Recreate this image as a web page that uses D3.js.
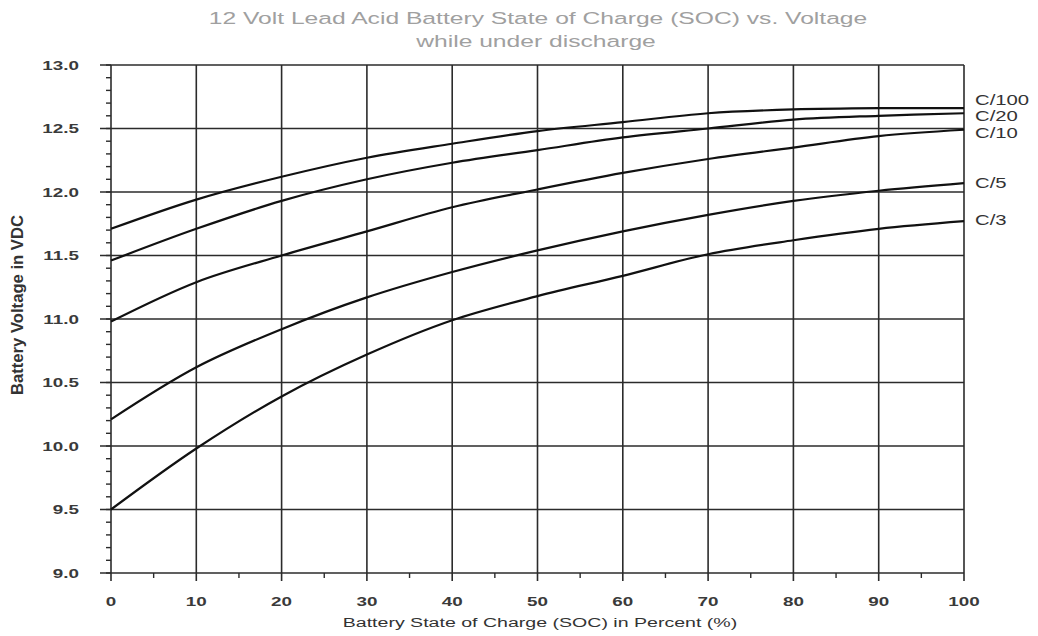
<!DOCTYPE html>
<meta charset="utf-8">
<style>
body { margin: 0; background: #fff; overflow: hidden; }
text { font-family: Arial, "Liberation Sans", sans-serif; }
.title { fill: #a0a0a0; font-size: 17px; }
.tick-label { fill: #3a3a3a; font-size: 13px; font-weight: bold; }
.axis-title { fill: #333; font-size: 13.5px; }
.y-title { fill: #333; font-size: 13px; font-weight: bold; }
.series-label { fill: #333; font-size: 14px; }
.grid { stroke: #2b2b2b; stroke-width: 1.6px; }
.minor { stroke: #2b2b2b; stroke-width: 1.4px; }
.curve { fill: none; stroke: #111; stroke-width: 2.2px; }
</style>
<div id="chart"></div>
<script src="https://cdnjs.cloudflare.com/ajax/libs/d3/7.8.5/d3.min.js"></script>
<script>

// state of charge, percent
var soc = [0, 10, 20, 30, 40, 50, 60, 70, 80, 90, 100];

// battery voltage per discharge rate
var seriesNames = ["C/100", "C/20", "C/10", "C/5", "C/3"];
var c100 = [11.71, 11.94, 12.12, 12.27, 12.38, 12.48, 12.55, 12.62, 12.65, 12.66, 12.66];
var c20  = [11.46, 11.71, 11.93, 12.10, 12.23, 12.33, 12.43, 12.50, 12.57, 12.60, 12.62];
var c10  = [10.98, 11.29, 11.50, 11.69, 11.88, 12.02, 12.15, 12.26, 12.35, 12.44, 12.49];
var c5   = [10.21, 10.62, 10.92, 11.17, 11.37, 11.54, 11.69, 11.82, 11.93, 12.01, 12.07];
var c3   = [9.50, 9.98, 10.39, 10.72, 10.99, 11.18, 11.34, 11.51, 11.62, 11.71, 11.77];
var seriesValues = [c100, c20, c10, c5, c3];

var xTicks = [0, 10, 20, 30, 40, 50, 60, 70, 80, 90, 100];
var yTicks = [9.0, 9.5, 10.0, 10.5, 11.0, 11.5, 12.0, 12.5, 13.0];

var width = 1038, height = 636;
var plotLeft = 111, plotRight = 964, plotTop = 65, plotBottom = 573;
var stretch = 1.45; // the source picture is widened, so the lettering is too

var x = d3.scaleLinear().domain([0, 100]).range([plotLeft, plotRight]);
var y = d3.scaleLinear().domain([9, 13]).range([plotBottom, plotTop]);

var svg = d3.select("#chart").append("svg")
    .attr("width", width)
    .attr("height", height);

function at(px, py) {
    return `translate(${px},${py}) scale(${stretch},1)`;
}

// title
svg.append("text").attr("class", "title")
    .attr("transform", at(538, 24)).attr("text-anchor", "middle")
    .text("12 Volt Lead Acid Battery State of Charge (SOC) vs. Voltage");
svg.append("text").attr("class", "title")
    .attr("transform", at(536, 47)).attr("text-anchor", "middle")
    .text("while under discharge");

// minor ticks
svg.append("g").selectAll("line")
    .data(d3.range(90, 131).map((d) => d / 10))
    .enter().append("line")
    .attr("class", "minor")
    .attr("x1", plotLeft - 5).attr("x2", plotLeft)
    .attr("y1", (d) => y(d)).attr("y2", (d) => y(d));

svg.append("g").selectAll("line")
    .data(d3.range(5, 100, 10))
    .enter().append("line")
    .attr("class", "minor")
    .attr("x1", (d) => x(d)).attr("x2", (d) => x(d))
    .attr("y1", plotBottom).attr("y2", plotBottom + 5);

// grid (major ticks stick out past the axes)
svg.append("g").selectAll("line")
    .data(yTicks)
    .enter().append("line")
    .attr("class", "grid")
    .attr("x1", plotLeft - 11).attr("x2", plotRight)
    .attr("y1", (d) => y(d)).attr("y2", (d) => y(d));

svg.append("g").selectAll("line")
    .data(xTicks)
    .enter().append("line")
    .attr("class", "grid")
    .attr("x1", (d) => x(d)).attr("x2", (d) => x(d))
    .attr("y1", plotTop).attr("y2", plotBottom + 8);

// tick labels
svg.append("g").selectAll("text")
    .data(yTicks)
    .enter().append("text")
    .attr("class", "tick-label")
    .attr("transform", (d) => at(79, y(d)))
    .attr("dy", "0.36em")
    .attr("text-anchor", "end")
    .text((d) => d3.format(".1f")(d));

svg.append("g").selectAll("text")
    .data(xTicks)
    .enter().append("text")
    .attr("class", "tick-label")
    .attr("transform", (d) => at(x(d), 606))
    .attr("text-anchor", "middle")
    .text((d) => d);

// axis titles
svg.append("text").attr("class", "axis-title")
    .attr("transform", at(540, 627)).attr("text-anchor", "middle")
    .text("Battery State of Charge (SOC) in Percent (%)");

svg.append("text").attr("class", "y-title")
    .attr("transform", "translate(23,305) scale(1.2,1) rotate(-90)")
    .attr("text-anchor", "middle")
    .attr("textLength", 180).attr("lengthAdjust", "spacingAndGlyphs")
    .text("Battery Voltage in VDC");

// curves
var line = d3.line()
    .x((d) => x(d[0]))
    .y((d) => y(d[1]))
    .curve(d3.curveCatmullRom.alpha(0.5));

svg.append("g").selectAll("path")
    .data(seriesValues)
    .enter().append("path")
    .attr("class", "curve")
    .attr("d", (vals) => line(soc.map((s, i) => [s, vals[i]])));

// series labels at the right end, nudged apart where they crowd
var labelNudge = [-8, 3, 3, 0, -1];
svg.append("g").selectAll("text")
    .data(seriesNames)
    .enter().append("text")
    .attr("class", "series-label")
    .attr("transform", (d, i) => at(plotRight + 11,
        y(seriesValues[i][seriesValues[i].length - 1]) + labelNudge[i]))
    .attr("dy", "0.36em")
    .text((d) => d);

</script>
